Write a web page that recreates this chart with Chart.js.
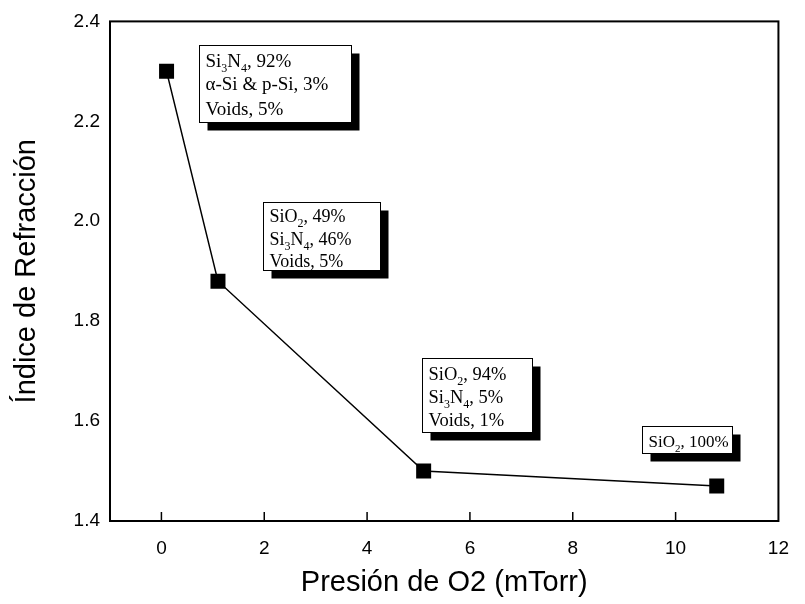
<!DOCTYPE html>
<html>
<head>
<title>Indice de Refraccion</title>
<script src="https://cdn.jsdelivr.net/npm/chart.js@4.4.1/dist/chart.umd.min.js"></script>
<style>
  html, body { margin: 0; padding: 0; background: #fff; }
  #wrap { width: 805px; height: 604px; }
</style>
</head>
<body>
<div id="wrap"><canvas id="myChart" width="805" height="604"></canvas></div>
<script>
// data
var presion = [0.1, 1.1, 5.1, 10.8];
var indice = [2.30, 1.88, 1.50, 1.47];
var xTicks = [0, 2, 4, 6, 8, 10, 12];
var yTicks = [1.4, 1.6, 1.8, 2.0, 2.2, 2.4];

// composition notes: [text, subscript] pieces per line, anchored at a data position (top-left)
var notes = [
  { x: 0.73, y: 2.352, w: 152, h: 77, size: 19, lines: [
      [['Si'], ['3', 1], ['N'], ['4', 1], [', 92%']],
      [['\u03B1-Si & p-Si, 3%']],
      [['Voids, 5%']] ], gaps: [21, 23, 25] },
  { x: 1.97, y: 2.038, w: 117, h: 68, size: 18, lines: [
      [['SiO'], ['2', 1], [', 49%']],
      [['Si'], ['3', 1], ['N'], ['4', 1], [', 46%']],
      [['Voids, 5%']] ], gaps: [19, 23, 22] },
  { x: 5.06, y: 1.726, w: 110, h: 74, size: 18.5, lines: [
      [['SiO'], ['2', 1], [', 94%']],
      [['Si'], ['3', 1], ['N'], ['4', 1], [', 5%']],
      [['Voids, 1%']] ], gaps: [21, 23, 23] },
  { x: 9.35, y: 1.591, w: 90, h: 27, size: 17, lines: [
      [['SiO'], ['2', 1], [', 100%']] ], gaps: [20] }
];

var framePlugin = {
  id: 'frame',
  afterDraw: function (chart) {
    var ctx = chart.ctx, a = chart.chartArea;
    var xs = chart.scales.x, ys = chart.scales.y;
    ctx.save();
    ctx.strokeStyle = '#000';
    ctx.lineWidth = 2;
    ctx.strokeRect(a.left, a.top, a.right - a.left, a.bottom - a.top);
    // inward ticks on x
    ctx.lineWidth = 1.5;
    xTicks.forEach(function (v) {
      var px = xs.getPixelForValue(v);
      if (px > a.left + 2 && px < a.right - 2) {
        ctx.beginPath();
        ctx.moveTo(px, a.bottom);
        ctx.lineTo(px, a.bottom - 9);
        ctx.stroke();
      }
    });
    // notes
    notes.forEach(function (n) {
      var bx = Math.round(xs.getPixelForValue(n.x)) + 0.5;
      var by = Math.round(ys.getPixelForValue(n.y)) + 0.5;
      ctx.fillStyle = '#000';
      ctx.fillRect(bx + 8, by + 8, n.w, n.h);
      ctx.fillStyle = '#fff';
      ctx.fillRect(bx, by, n.w, n.h);
      ctx.lineWidth = 1;
      ctx.strokeStyle = '#000';
      ctx.strokeRect(bx, by, n.w, n.h);
      ctx.fillStyle = '#000';
      ctx.textBaseline = 'alphabetic';
      ctx.textAlign = 'left';
      var ty = by;
      n.lines.forEach(function (line, i) {
        ty += n.gaps[i];
        var tx = bx + 6;
        line.forEach(function (p) {
          if (p[1]) {
            ctx.font = Math.round(n.size * 0.65) + 'px "Liberation Serif", serif';
            ctx.fillText(p[0], tx, ty + 5);
          } else {
            ctx.font = n.size + 'px "Liberation Serif", serif';
            ctx.fillText(p[0], tx, ty);
          }
          tx += ctx.measureText(p[0]).width;
        });
      });
    });
    ctx.restore();
  }
};

new Chart(document.getElementById('myChart'), {
  type: 'line',
  data: {
    datasets: [{
      data: presion.map(function (v, i) { return { x: v, y: indice[i] }; }),
      borderColor: '#000',
      borderWidth: 1.5,
      backgroundColor: '#000',
      pointStyle: 'rect',
      pointRadius: 10.6,
      pointHoverRadius: 10.6,
      pointBorderWidth: 0,
      tension: 0
    }]
  },
  options: {
    responsive: false,
    animation: false,
    layout: { padding: { top: 17, right: 17, left: 0, bottom: 0 } },
    plugins: { legend: { display: false }, tooltip: { enabled: false } },
    scales: {
      x: {
        type: 'linear',
        min: -1, max: 12,
        grid: { display: false, drawTicks: false },
        border: { display: false },
        afterBuildTicks: function (s) { s.ticks = xTicks.map(function (v) { return { value: v }; }); },
        afterFit: function (s) { s.height = 83; },
        ticks: {
          color: '#000', padding: 16,
          font: { family: '"Liberation Sans", Arial, sans-serif', size: 19 }
        },
        title: {
          display: true, text: 'Presión de O2 (mTorr)', color: '#000', padding: { top: 4, bottom: 4 },
          font: { family: '"Liberation Sans", Arial, sans-serif', size: 29 }
        }
      },
      y: {
        min: 1.4, max: 2.4,
        grid: { display: false, drawTicks: false },
        border: { display: false },
        afterBuildTicks: function (s) { s.ticks = yTicks.map(function (v) { return { value: v }; }); },
        afterFit: function (s) { s.width = 110; },
        ticks: {
          color: '#000', padding: 10,
          font: { family: '"Liberation Sans", Arial, sans-serif', size: 19 },
          callback: function (v) { return v.toFixed(1); }
        },
        title: {
          display: true, text: 'Índice de Refracción', color: '#000', padding: { top: 10, bottom: 0 },
          font: { family: '"Liberation Sans", Arial, sans-serif', size: 29 }
        }
      }
    }
  },
  plugins: [framePlugin]
});
</script>
</body>
</html>
